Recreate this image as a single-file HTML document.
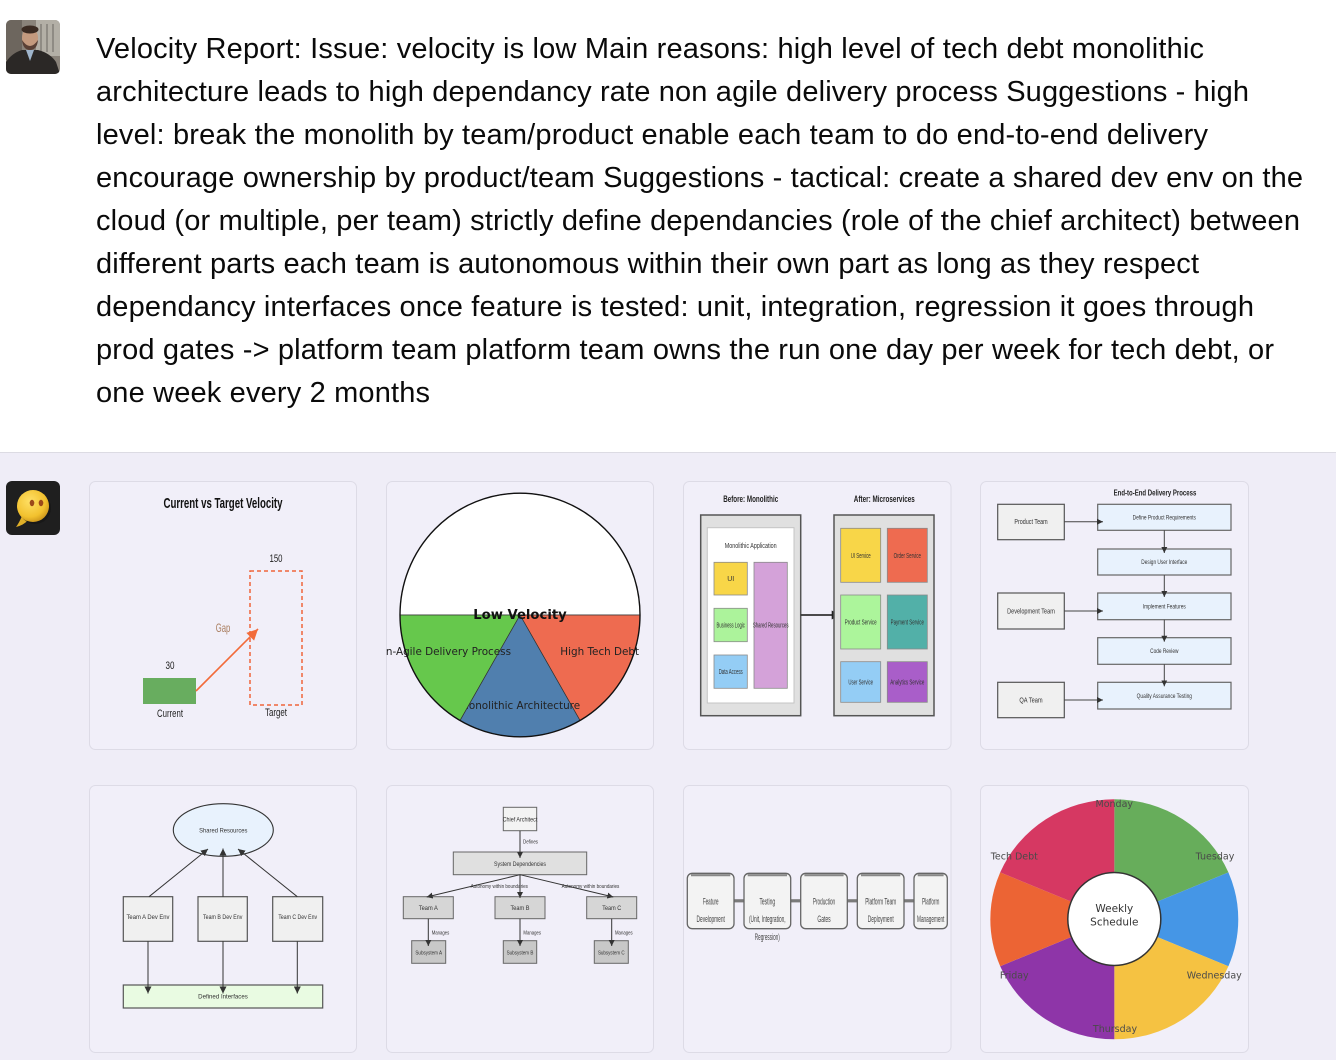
<!DOCTYPE html>
<html><head><meta charset="utf-8">
<style>
html,body{margin:0;padding:0;width:1336px;height:1060px;overflow:hidden;background:#efedf7;}
svg{display:block;}
</style></head><body>
<svg width="1336" height="1060" viewBox="0 0 1336 1060" xmlns="http://www.w3.org/2000/svg" font-family="'Liberation Sans', Arial, sans-serif">
<defs>
  <marker id="ah" viewBox="0 0 10 10" refX="10" refY="5" markerWidth="7" markerHeight="7" orient="auto" markerUnits="userSpaceOnUse"><path d="M0,0 L10,5 L0,10 z" fill="#333"/></marker>
  <marker id="ahs" viewBox="0 0 10 10" refX="10" refY="5" markerWidth="6" markerHeight="6" orient="auto" markerUnits="userSpaceOnUse"><path d="M0,0 L10,5 L0,10 z" fill="#333"/></marker>
  <marker id="ahb" viewBox="0 0 10 10" refX="10" refY="5" markerWidth="9" markerHeight="9" orient="auto" markerUnits="userSpaceOnUse"><path d="M0,0 L10,5 L0,10 z" fill="#222"/></marker>
  <marker id="ao" viewBox="0 0 10 10" refX="10" refY="5" markerWidth="12" markerHeight="11" orient="auto" markerUnits="userSpaceOnUse"><path d="M0,0 L10,5 L0,10 z" fill="#f26b3a"/></marker>
  <clipPath id="ua"><rect x="6" y="20" width="54" height="54" rx="5"/></clipPath>
  <clipPath id="c2"><rect x="386.5" y="481.5" width="267" height="268" rx="6"/></clipPath>
  <clipPath id="c8"><rect x="980.5" y="785.5" width="268" height="267" rx="6"/></clipPath>
  <radialGradient id="yg" cx="0.4" cy="0.35" r="0.7"><stop offset="0" stop-color="#ffe066"/><stop offset="0.7" stop-color="#f2c12e"/><stop offset="1" stop-color="#c9921a"/></radialGradient>
</defs>

<!-- top section -->
<rect x="0" y="0" width="1336" height="452" fill="#ffffff"/>
<rect x="0" y="452" width="1336" height="1" fill="#dcdbe3"/>
<rect x="0" y="453" width="1336" height="607" fill="#efedf7"/>

<!-- user avatar -->
<g clip-path="url(#ua)">
  <rect x="6" y="20" width="54" height="54" fill="#8a837a"/>
  <rect x="36" y="20" width="24" height="36" fill="#b3afa6"/>
  <rect x="40" y="24" width="2" height="28" fill="#8f8b84"/>
  <rect x="46" y="24" width="2" height="28" fill="#8f8b84"/>
  <rect x="52" y="24" width="2" height="28" fill="#8f8b84"/>
  <rect x="6" y="20" width="16" height="40" fill="#6d665e"/>
  <ellipse cx="30" cy="38" rx="8" ry="10.5" fill="#c49a7e"/>
  <ellipse cx="30" cy="29.5" rx="8.5" ry="4" fill="#3b2b22"/>
  <path d="M22,40 Q23,50 30,50 Q37,50 38,40 Q34,46 30,46 Q26,46 22,40 Z" fill="#5a4035"/>
  <path d="M6,74 L6,62 Q12,53 22,50 L38,50 Q50,53 56,62 L60,74 Z" fill="#2b2826"/>
  <polygon points="26,50 34,50 30,61" fill="#9fb5cc"/>
</g>

<!-- message text -->
<g font-size="29" fill="#0a0a0a">
<text x="96" y="58" textLength="1108" lengthAdjust="spacing">Velocity Report: Issue: velocity is low Main reasons: high level of tech debt monolithic</text>
<text x="96" y="101" textLength="1153" lengthAdjust="spacing">architecture leads to high dependancy rate non agile delivery process Suggestions - high</text>
<text x="96" y="144" textLength="1112" lengthAdjust="spacing">level: break the monolith by team/product enable each team to do end-to-end delivery</text>
<text x="96" y="187" textLength="1207" lengthAdjust="spacing">encourage ownership by product/team Suggestions - tactical: create a shared dev env on the</text>
<text x="96" y="230" textLength="1204" lengthAdjust="spacing">cloud (or multiple, per team) strictly define dependancies (role of the chief architect) between</text>
<text x="96" y="273" textLength="1103" lengthAdjust="spacing">different parts each team is autonomous within their own part as long as they respect</text>
<text x="96" y="316" textLength="1158" lengthAdjust="spacing">dependancy interfaces once feature is tested: unit, integration, regression it goes through</text>
<text x="96" y="359" textLength="1178" lengthAdjust="spacing">prod gates -&gt; platform team platform team owns the run one day per week for tech debt, or</text>
<text x="96" y="402" textLength="334" lengthAdjust="spacing">one week every 2 months</text>
</g>

<!-- bot avatar -->
<rect x="6" y="481" width="54" height="54" rx="6" fill="#1f1f1f"/>
<path d="M22,516 Q19,523 16,527 Q24,525 28,520 Z" fill="#e0b028"/>
<circle cx="35" cy="508" r="16" fill="#111" opacity="0.5"/>
<circle cx="33" cy="506" r="16" fill="url(#yg)"/>
<ellipse cx="32" cy="503" rx="2.3" ry="3.2" fill="#9c4a1a"/>
<ellipse cx="41" cy="503" rx="2.3" ry="3.2" fill="#9c4a1a"/>

<!-- ===== Card 1 ===== -->
<rect x="89.5" y="481.5" width="267" height="268" rx="6" fill="#f1eff9" stroke="#dddbe6"/>
<text x="223" y="508" font-size="15" font-weight="bold" text-anchor="middle" textLength="119" lengthAdjust="spacingAndGlyphs" fill="#111">Current vs Target Velocity</text>
<rect x="143" y="678" width="53" height="26" fill="#68ad5f"/>
<text x="170" y="669" font-size="11" text-anchor="middle" textLength="9" lengthAdjust="spacingAndGlyphs" fill="#222">30</text>
<text x="170" y="717" font-size="11" text-anchor="middle" textLength="26" lengthAdjust="spacingAndGlyphs" fill="#222">Current</text>
<rect x="250" y="571" width="52" height="134" fill="none" stroke="#f0653a" stroke-width="1.5" stroke-dasharray="4,3"/>
<text x="276" y="562" font-size="11" text-anchor="middle" textLength="13" lengthAdjust="spacingAndGlyphs" fill="#222">150</text>
<text x="276" y="716" font-size="11" text-anchor="middle" textLength="22" lengthAdjust="spacingAndGlyphs" fill="#222">Target</text>
<line x1="196" y1="691" x2="258" y2="629" stroke="#f26b3a" stroke-width="1.6" marker-end="url(#ao)"/>
<text x="223" y="632" font-size="12" text-anchor="middle" textLength="14.5" lengthAdjust="spacingAndGlyphs" fill="#a87b5c">Gap</text>

<!-- ===== Card 2 ===== -->
<rect x="386.5" y="481.5" width="267" height="268" rx="6" fill="#f1eff9" stroke="#dddbe6"/>
<g clip-path="url(#c2)" font-family="'DejaVu Sans', 'Liberation Sans', sans-serif">
  <g transform="translate(520,615) scale(1,1.015)">
    <path d="M0,0 L-120,0 A120,120 0 0 1 120,0 Z" fill="#ffffff" stroke="#555" stroke-width="0.8"/>
    <path d="M0,0 L120,0 A120,120 0 0 1 60,103.92 Z" fill="#ee6b50" stroke="#333" stroke-width="0.7"/>
  </g>
  <text x="599.7" y="655" font-size="10.4" text-anchor="middle" fill="#222">High Tech Debt</text>
  <g transform="translate(520,615) scale(1,1.015)">
    <path d="M0,0 L60,103.92 A120,120 0 0 1 -60,103.92 Z" fill="#507fae" stroke="#333" stroke-width="0.7"/>
  </g>
  <text x="520" y="709" font-size="10.4" text-anchor="middle" fill="#222">Monolithic Architecture</text>
  <g transform="translate(520,615) scale(1,1.015)">
    <path d="M0,0 L-60,103.92 A120,120 0 0 1 -120,0 Z" fill="#66c84c" stroke="#333" stroke-width="0.7"/>
  </g>
  <text x="511" y="655" font-size="10.4" text-anchor="end" fill="#222">Non-Agile Delivery Process</text>
  <g transform="translate(520,615) scale(1,1.015)">
    <circle cx="0" cy="0" r="120" fill="none" stroke="#111" stroke-width="1.4"/>
  </g>
  <text x="520" y="619" font-size="13.2" font-weight="bold" text-anchor="middle" fill="#111">Low Velocity</text>
</g>

<!-- ===== Card 3 ===== -->
<rect x="683.5" y="481.5" width="267.5" height="268" rx="6" fill="#f1eff9" stroke="#dddbe6"/>
<g fill="#222">
<text x="750.7" y="502" font-size="9" font-weight="bold" text-anchor="middle" textLength="55" lengthAdjust="spacingAndGlyphs">Before: Monolithic</text>
<text x="884.3" y="502" font-size="9" font-weight="bold" text-anchor="middle" textLength="61" lengthAdjust="spacingAndGlyphs">After: Microservices</text>
</g>
<rect x="700.7" y="515" width="100" height="200.7" fill="#e0e0e0" stroke="#555" stroke-width="1.5"/>
<rect x="707.3" y="527.7" width="86.7" height="175.3" fill="#ffffff" stroke="#c4c4c4" stroke-width="1"/>
<g stroke="#8a8a8a" stroke-width="0.8">
<rect x="714" y="562.3" width="33.3" height="32.7" fill="#f8d648"/>
<rect x="714" y="608.3" width="33.3" height="33.4" fill="#acf39b"/>
<rect x="714" y="655" width="33.3" height="33.3" fill="#94cdf5"/>
<rect x="754" y="562.3" width="33.3" height="126" fill="#d4a2d9"/>
</g>
<g font-size="7" fill="#333" text-anchor="middle">
<text x="750.7" y="548" textLength="52" lengthAdjust="spacingAndGlyphs">Monolithic Application</text>
<text x="730.7" y="581">UI</text>
<text x="730.7" y="627.5" textLength="28.3" lengthAdjust="spacingAndGlyphs">Business Logic</text>
<text x="730.7" y="674" textLength="24" lengthAdjust="spacingAndGlyphs">Data Access</text>
<text x="770.7" y="627.5" textLength="35.7" lengthAdjust="spacingAndGlyphs">Shared Resources</text>
</g>
<line x1="800.7" y1="615" x2="840.7" y2="615" stroke="#333" stroke-width="1.8" marker-end="url(#ahb)"/>
<rect x="834" y="515" width="100" height="200.7" fill="#e0e0e0" stroke="#555" stroke-width="1.5"/>
<g stroke="#8a8a8a" stroke-width="0.8">
<rect x="840.7" y="528.3" width="40" height="54" fill="#f8d648"/>
<rect x="887.3" y="528.3" width="40" height="54" fill="#ee6b50"/>
<rect x="840.7" y="595" width="40" height="54" fill="#acf59b"/>
<rect x="887.3" y="595" width="40" height="54" fill="#52b0a8"/>
<rect x="840.7" y="661.7" width="40" height="40.6" fill="#94cdf5"/>
<rect x="887.3" y="661.7" width="40" height="40.6" fill="#a95ec9"/>
</g>
<g font-size="7" fill="#333" text-anchor="middle">
<text x="860.7" y="557.8" textLength="20" lengthAdjust="spacingAndGlyphs">UI Service</text>
<text x="907.3" y="557.8" textLength="27.3" lengthAdjust="spacingAndGlyphs">Order Service</text>
<text x="860.7" y="624.5" textLength="32" lengthAdjust="spacingAndGlyphs">Product Service</text>
<text x="907.3" y="624.5" textLength="33.3" lengthAdjust="spacingAndGlyphs">Payment Service</text>
<text x="860.7" y="684.5" textLength="24.7" lengthAdjust="spacingAndGlyphs">User Service</text>
<text x="907.3" y="684.5" textLength="34" lengthAdjust="spacingAndGlyphs">Analytics Service</text>
</g>

<!-- ===== Card 4 ===== -->
<rect x="980.5" y="481.5" width="268" height="268" rx="6" fill="#f1eff9" stroke="#dddbe6"/>
<text x="1155" y="495.5" font-size="8" font-weight="bold" text-anchor="middle" textLength="82.7" lengthAdjust="spacingAndGlyphs" fill="#222">End-to-End Delivery Process</text>
<g stroke="#555" stroke-width="1.2" fill="#f0f0f0">
<rect x="997.7" y="504.3" width="66.6" height="35.4"/>
<rect x="997.7" y="593" width="66.6" height="36"/>
<rect x="997.7" y="682.3" width="66.6" height="35.4"/>
</g>
<g stroke="#666" stroke-width="1.2" fill="#e8f2fd">
<rect x="1097.7" y="504.3" width="133.3" height="26"/>
<rect x="1097.7" y="549" width="133.3" height="26"/>
<rect x="1097.7" y="593" width="133.3" height="26.7"/>
<rect x="1097.7" y="637.7" width="133.3" height="26.6"/>
<rect x="1097.7" y="682.3" width="133.3" height="26.7"/>
</g>
<g stroke="#444" stroke-width="1">
<line x1="1164.3" y1="530.3" x2="1164.3" y2="553" marker-end="url(#ahs)"/>
<line x1="1164.3" y1="575" x2="1164.3" y2="597" marker-end="url(#ahs)"/>
<line x1="1164.3" y1="619.7" x2="1164.3" y2="641.7" marker-end="url(#ahs)"/>
<line x1="1164.3" y1="664.3" x2="1164.3" y2="686.3" marker-end="url(#ahs)"/>
<line x1="1064.3" y1="521.7" x2="1103" y2="521.7" marker-end="url(#ahs)"/>
<line x1="1064.3" y1="611" x2="1103" y2="611" marker-end="url(#ahs)"/>
<line x1="1064.3" y1="700" x2="1103" y2="700" marker-end="url(#ahs)"/>
</g>
<g font-size="7" fill="#333" text-anchor="middle">
<text x="1031" y="524" textLength="33.3" lengthAdjust="spacingAndGlyphs">Product Team</text>
<text x="1031" y="613.5" textLength="47.7" lengthAdjust="spacingAndGlyphs">Development Team</text>
<text x="1031" y="702.5" textLength="23.3" lengthAdjust="spacingAndGlyphs">QA Team</text>
</g>
<g font-size="6" fill="#333" text-anchor="middle">
<text x="1164.3" y="519.5" textLength="63.3" lengthAdjust="spacingAndGlyphs">Define Product Requirements</text>
<text x="1164.3" y="564" textLength="46" lengthAdjust="spacingAndGlyphs">Design User Interface</text>
<text x="1164.3" y="608.5" textLength="43" lengthAdjust="spacingAndGlyphs">Implement Features</text>
<text x="1164.3" y="653" textLength="28.3" lengthAdjust="spacingAndGlyphs">Code Review</text>
<text x="1164.3" y="698" textLength="55.3" lengthAdjust="spacingAndGlyphs">Quality Assurance Testing</text>
</g>

<!-- ===== Card 5 ===== -->
<rect x="89.5" y="785.5" width="267" height="267" rx="6" fill="#f1eff9" stroke="#dddbe6"/>
<ellipse cx="223.3" cy="830" rx="50" ry="26.3" fill="#e8f2fd" stroke="#333" stroke-width="1.1"/>
<g stroke="#555" stroke-width="1.2" fill="#f0f0f0">
<rect x="123.3" y="896.7" width="49.4" height="44.6"/>
<rect x="198" y="896.7" width="49.3" height="44.6"/>
<rect x="272.7" y="896.7" width="50" height="44.6"/>
</g>
<rect x="123.3" y="985" width="199.4" height="23" fill="#e9fbe2" stroke="#555" stroke-width="1.2"/>
<g stroke="#333" stroke-width="1">
<line x1="149" y1="896.7" x2="208" y2="849" marker-end="url(#ah)"/>
<line x1="223" y1="896.7" x2="223" y2="848.5" marker-end="url(#ah)"/>
<line x1="297.3" y1="896.7" x2="238" y2="849" marker-end="url(#ah)"/>
<line x1="148" y1="941.3" x2="148" y2="993.5" marker-end="url(#ah)"/>
<line x1="223" y1="941.3" x2="223" y2="993.5" marker-end="url(#ah)"/>
<line x1="297.3" y1="941.3" x2="297.3" y2="993.5" marker-end="url(#ah)"/>
</g>
<g font-size="6.5" fill="#333" text-anchor="middle">
<text x="223.3" y="832.5" textLength="48.3" lengthAdjust="spacingAndGlyphs">Shared Resources</text>
<text x="148" y="918.8" textLength="43" lengthAdjust="spacingAndGlyphs">Team A Dev Env</text>
<text x="222.7" y="918.8" textLength="39.3" lengthAdjust="spacingAndGlyphs">Team B Dev Env</text>
<text x="297.7" y="918.8" textLength="38.7" lengthAdjust="spacingAndGlyphs">Team C Dev Env</text>
<text x="223" y="998.5" textLength="49.7" lengthAdjust="spacingAndGlyphs">Defined Interfaces</text>
</g>

<!-- ===== Card 6 ===== -->
<rect x="386.5" y="785.5" width="267" height="267" rx="6" fill="#f1eff9" stroke="#dddbe6"/>
<rect x="503.3" y="807.3" width="33.4" height="23.4" fill="#f3f3f3" stroke="#666" stroke-width="1"/>
<rect x="453.3" y="852" width="133.4" height="22.7" fill="#e0e0e0" stroke="#666" stroke-width="1"/>
<g fill="#d6d6d6" stroke="#666" stroke-width="1">
<rect x="403.3" y="896.7" width="50" height="22"/>
<rect x="495" y="896.7" width="50" height="22"/>
<rect x="586.7" y="896.7" width="50" height="22"/>
</g>
<g fill="#c8c8c8" stroke="#666" stroke-width="1">
<rect x="411.7" y="940.7" width="34" height="22.6"/>
<rect x="503.3" y="940.7" width="33.4" height="22.6"/>
<rect x="594.3" y="940.7" width="34" height="22.6"/>
</g>
<g stroke="#333" stroke-width="1">
<line x1="520" y1="830.7" x2="520" y2="858" marker-end="url(#ahs)"/>
<line x1="520" y1="874.7" x2="426.7" y2="897" marker-end="url(#ahs)"/>
<line x1="520" y1="874.7" x2="520" y2="898" marker-end="url(#ahs)"/>
<line x1="520" y1="874.7" x2="613.3" y2="897" marker-end="url(#ahs)"/>
<line x1="428.3" y1="918.7" x2="428.3" y2="946" marker-end="url(#ahs)"/>
<line x1="520" y1="918.7" x2="520" y2="946" marker-end="url(#ahs)"/>
<line x1="611.7" y1="918.7" x2="611.7" y2="946" marker-end="url(#ahs)"/>
</g>
<g font-size="6" fill="#333" text-anchor="middle">
<text x="520" y="821.5" textLength="34.7" lengthAdjust="spacingAndGlyphs">Chief Architect</text>
<text x="530.5" y="843.5" font-size="5.5" textLength="15" lengthAdjust="spacingAndGlyphs">Defines</text>
<text x="520" y="866" font-size="6.5" textLength="52" lengthAdjust="spacingAndGlyphs">System Dependencies</text>
<text x="499.3" y="888" font-size="5.5" textLength="57.3" lengthAdjust="spacingAndGlyphs">Autonomy within boundaries</text>
<text x="590.5" y="888" font-size="5.5" textLength="57.7" lengthAdjust="spacingAndGlyphs">Autonomy within boundaries</text>
<text x="428.3" y="910" textLength="19" lengthAdjust="spacingAndGlyphs">Team A</text>
<text x="520" y="910" textLength="19" lengthAdjust="spacingAndGlyphs">Team B</text>
<text x="611.7" y="910" textLength="19" lengthAdjust="spacingAndGlyphs">Team C</text>
<text x="440.5" y="934.5" font-size="5.5" textLength="17.6" lengthAdjust="spacingAndGlyphs">Manages</text>
<text x="532.2" y="934.5" font-size="5.5" textLength="17.6" lengthAdjust="spacingAndGlyphs">Manages</text>
<text x="623.8" y="934.5" font-size="5.5" textLength="17.6" lengthAdjust="spacingAndGlyphs">Manages</text>
<text x="428.7" y="954.5" font-size="5.5" textLength="26.7" lengthAdjust="spacingAndGlyphs">Subsystem A</text>
<text x="520" y="954.5" font-size="5.5" textLength="26.7" lengthAdjust="spacingAndGlyphs">Subsystem B</text>
<text x="611.3" y="954.5" font-size="5.5" textLength="26.7" lengthAdjust="spacingAndGlyphs">Subsystem C</text>
</g>

<!-- ===== Card 7 ===== -->
<rect x="683.5" y="785.5" width="267.5" height="267" rx="6" fill="#f1eff9" stroke="#dddbe6"/>
<g fill="#7a7a7a">
<rect x="734" y="899.2" width="10" height="3.2"/>
<rect x="790.7" y="899.2" width="10" height="3.2"/>
<rect x="847.3" y="899.2" width="10" height="3.2"/>
<rect x="904" y="899.2" width="10" height="3.2"/>
</g>
<g fill="#f3f3f3" stroke="#666" stroke-width="1.3">
<rect x="687.3" y="873.3" width="46.7" height="55.4" rx="5"/>
<rect x="744" y="873.3" width="46.7" height="55.4" rx="5"/>
<rect x="800.7" y="873.3" width="46.6" height="55.4" rx="5"/>
<rect x="857.3" y="873.3" width="46.7" height="55.4" rx="5"/>
<rect x="914" y="873.3" width="33.3" height="55.4" rx="5"/>
</g>
<g stroke="#888" stroke-width="2.2">
<line x1="691" y1="875.2" x2="730.3" y2="875.2"/>
<line x1="747.7" y1="875.2" x2="787" y2="875.2"/>
<line x1="804.4" y1="875.2" x2="843.6" y2="875.2"/>
<line x1="861" y1="875.2" x2="900.3" y2="875.2"/>
<line x1="917.7" y1="875.2" x2="943.6" y2="875.2"/>
</g>
<g font-size="9" fill="#444" text-anchor="middle">
<text x="710.7" y="904.5" textLength="15.7" lengthAdjust="spacingAndGlyphs">Feature</text>
<text x="710.7" y="922" textLength="28.3" lengthAdjust="spacingAndGlyphs">Development</text>
<text x="767.3" y="904.5" textLength="15.7" lengthAdjust="spacingAndGlyphs">Testing</text>
<text x="767.3" y="922" textLength="36.7" lengthAdjust="spacingAndGlyphs">(Unit, Integration,</text>
<text x="767.3" y="940" textLength="25" lengthAdjust="spacingAndGlyphs">Regression)</text>
<text x="824" y="904.5" textLength="22.3" lengthAdjust="spacingAndGlyphs">Production</text>
<text x="824" y="922" textLength="13.3" lengthAdjust="spacingAndGlyphs">Gates</text>
<text x="880.7" y="904.5" textLength="31" lengthAdjust="spacingAndGlyphs">Platform Team</text>
<text x="880.7" y="922" textLength="26" lengthAdjust="spacingAndGlyphs">Deployment</text>
<text x="930.7" y="904.5" textLength="17.3" lengthAdjust="spacingAndGlyphs">Platform</text>
<text x="930.7" y="922" textLength="27.3" lengthAdjust="spacingAndGlyphs">Management</text>
</g>

<!-- ===== Card 8 ===== -->
<rect x="980.5" y="785.5" width="268" height="267" rx="6" fill="#f1eff9" stroke="#dddbe6"/>
<g clip-path="url(#c8)">
<path d="M1114.3,919.3 L1114.3,799.3 A124,120 0 0 1 1228.4,872.4 Z" fill="#67ad5b"/>
<path d="M1114.3,919.3 L1228.4,872.4 A124,120 0 0 1 1228.4,966.2 Z" fill="#4596e6"/>
<path d="M1114.3,919.3 L1228.4,966.2 A124,120 0 0 1 1114.3,1039.3 Z" fill="#f5c242"/>
<path d="M1114.3,919.3 L1114.3,1039.3 A124,120 0 0 1 1000.2,966.2 Z" fill="#8e35a8"/>
<path d="M1114.3,919.3 L1000.2,966.2 A124,120 0 0 1 1000.2,872.4 Z" fill="#ec6434"/>
<path d="M1114.3,919.3 L1000.2,872.4 A124,120 0 0 1 1114.3,799.3 Z" fill="#d63862"/>
<circle cx="1114.3" cy="919" r="46.5" fill="#ffffff" stroke="#333" stroke-width="1.5"/>
<g font-family="'DejaVu Sans', 'Liberation Sans', sans-serif" font-size="9.5" fill="#4a4a4a" text-anchor="middle">
<text x="1114.3" y="806.8">Monday</text>
<text x="1215" y="859.5">Tuesday</text>
<text x="1214.3" y="978.5">Wednesday</text>
<text x="1115" y="1031.8">Thursday</text>
<text x="1014.3" y="978.5">Friday</text>
<text x="1014.3" y="859.5">Tech Debt</text>
<text x="1114.3" y="912" font-size="10.5" fill="#333">Weekly</text>
<text x="1114.3" y="925.5" font-size="10.5" fill="#333">Schedule</text>
</g>
</g>
</svg>
</body></html>
